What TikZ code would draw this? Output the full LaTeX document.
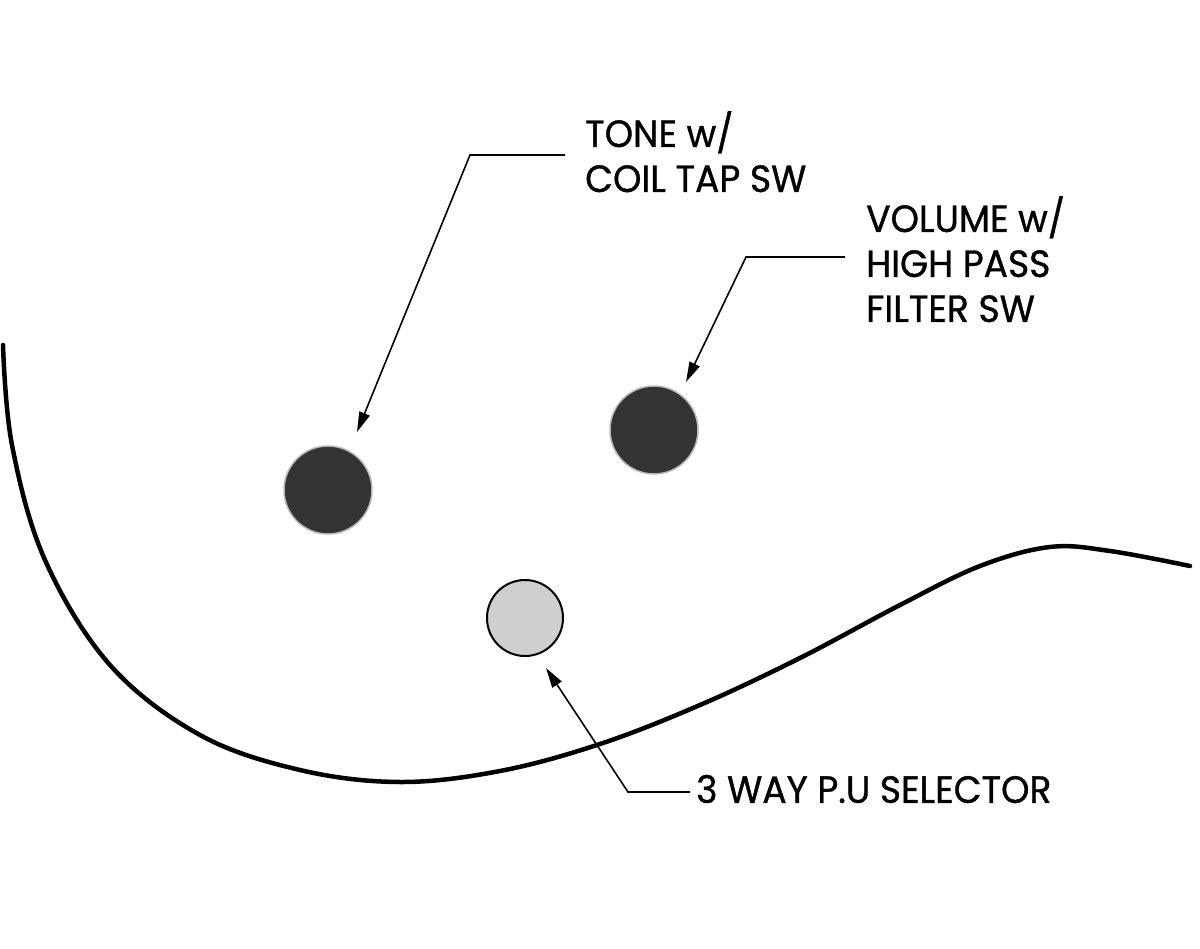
\documentclass[tikz,border=0pt]{standalone}
\usepackage{fontspec}
\setmainfont{Poppins}
\newfontfamily\lblfont[FakeBold=0.9,FakeStretch=0.95]{Poppins}
\usetikzlibrary{arrows.meta}
\definecolor{knobdark}{HTML}{333333}
\definecolor{knobedge}{HTML}{B8B8B8}
\definecolor{selfill}{HTML}{CFCFCF}
\tikzset{
  knob/.style={circle,draw=knobedge,line width=1.5pt,fill=knobdark,minimum size=88pt,inner sep=0pt},
  selknob/.style={circle,draw=black,line width=2pt,fill=selfill,minimum size=76pt,inner sep=0pt},
  lbl/.style={anchor=north west,inner sep=0pt,align=left,font=\lblfont\fontsize{38}{45}\selectfont},
  leader/.style={line width=1.6pt,-{Triangle[length=20pt,width=11pt]}},
  body/.style={line width=4.5pt,line cap=round}
}
\begin{document}
\begin{tikzpicture}[x=1pt,y=-1pt]
\useasboundingbox (0,0) rectangle (1200,949);
% body outline
\draw[body] plot[smooth,tension=0.6] coordinates {(3,345) (12,445) (45,560) (110,665) (200,735) (300,770) (400,782) (500,771) (600,744) (700,705) (800,658) (900,605) (980,566) (1050,547) (1110,551) (1190,566)};
% knobs
\node[knob] (tone) at (328,490) {};
\node[knob] (vol) at (654,430) {};
\node[selknob] (sel) at (525,618) {};
% labels
\node[lbl] (tonelbl) at (585,111) {TONE w/\\COIL TAP SW};
\node[lbl] (vollbl) at (866,196) {VOLUME w/\\HIGH PASS\\FILTER SW};
\node[lbl,anchor=west] (sellbl) at (696,789) {3 WAY P.U SELECTOR};
% leader bends
\coordinate (tb) at (470,155);
\coordinate (vb) at (746,257);
\coordinate (sb) at (628,792);
\draw[leader] (565,155) -- (tb) -- ([shift={(29,-58)}]tone.center);
\draw[leader] (845,257) -- (vb) -- ([shift={(32,-48)}]vol.center);
\draw[leader] (sellbl.west) ++(-6,3) -- (sb) -- ([shift={(21,50)}]sel.center);
\end{tikzpicture}
\end{document}
